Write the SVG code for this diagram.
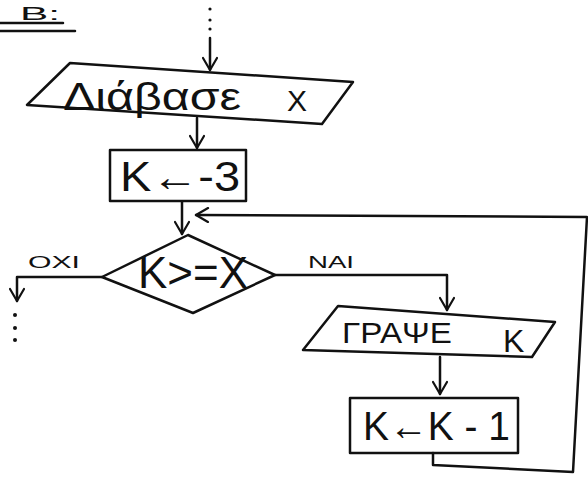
<svg xmlns="http://www.w3.org/2000/svg" width="588" height="477" viewBox="0 0 588 477">
<style>
.s{fill:none;stroke:#111;stroke-width:2.5;stroke-linecap:round;stroke-linejoin:round}
.t{font-family:"Liberation Sans","DejaVu Sans",Arial,sans-serif;fill:#111}
.dot{fill:#111}
</style>
<defs>
<marker id="a" viewBox="0 0 16 16" refX="14" refY="8" markerWidth="16" markerHeight="16" markerUnits="userSpaceOnUse" orient="auto">
<path d="M2,1 L14,8 L2,15" fill="none" stroke="#111" stroke-width="2.2" stroke-linecap="round" stroke-linejoin="round"/>
</marker>
</defs>
<g id="title">
<text class="t" x="20" y="20" font-size="19" textLength="40" lengthAdjust="spacingAndGlyphs">Β:</text>
<path class="s" d="M0,23 L63,23" stroke="#5a2020" stroke-width="1.8"/>
<path class="s" d="M0,31 L75,31"/>
</g>
<g id="connectors">
<circle class="dot" cx="210" cy="9" r="1.6"/>
<circle class="dot" cx="210" cy="20" r="1.6"/>
<circle class="dot" cx="210" cy="29" r="1.6"/>
<path class="s" d="M210,38 L210,70" marker-end="url(#a)"/>
<path class="s" d="M197,118 L197,148" marker-end="url(#a)"/>
<path class="s" d="M182,202 L182,234" marker-end="url(#a)"/>
<path class="s" d="M433,453 L433,465 L573,472 L587,217 L196,215" marker-end="url(#a)"/>
<path class="s" d="M102,277 L17,277 L17,301" marker-end="url(#a)"/>
<circle class="dot" cx="15" cy="315" r="2"/>
<circle class="dot" cx="15" cy="328" r="2"/>
<circle class="dot" cx="15" cy="340" r="2"/>
<path class="s" d="M275,275 L447,275 L447,310" marker-end="url(#a)"/>
<path class="s" d="M440,357 L440,394" marker-end="url(#a)"/>
<text class="t" x="28" y="268" font-size="17" textLength="52" lengthAdjust="spacingAndGlyphs">ΟΧΙ</text>
<text class="t" x="308" y="268" font-size="16" textLength="46" lengthAdjust="spacingAndGlyphs">ΝΑΙ</text>
</g>
<g id="read">
<path class="s" d="M70,63 L353,82 L322,124 L27,105 Z"/>
<text class="t" x="63" y="110" font-size="38" textLength="178" lengthAdjust="spacingAndGlyphs">Διάβασε</text>
<text class="t" x="287" y="111" font-size="30">X</text>
</g>
<g id="init">
<rect class="s" x="110" y="150" width="136" height="51"/>
<text class="t" x="120" y="191" font-size="42" textLength="120" lengthAdjust="spacingAndGlyphs">Κ←-3</text>
</g>
<g id="cond">
<path class="s" d="M102,277 L188,235 L275,275 L193,313 Z"/>
<text class="t" x="138" y="288" font-size="44" textLength="110" lengthAdjust="spacingAndGlyphs">Κ&gt;=X</text>
</g>
<g id="write">
<path class="s" d="M338,306 L555,322 L532,357 L303,350 Z"/>
<text class="t" x="342" y="343" font-size="29" textLength="110" lengthAdjust="spacingAndGlyphs">ΓΡΑΨΕ</text>
<text class="t" x="503" y="352" font-size="32">Κ</text>
</g>
<g id="dec">
<rect class="s" x="350" y="398" width="168" height="55"/>
<text class="t" x="363" y="440" font-size="40" textLength="147" lengthAdjust="spacingAndGlyphs">Κ←Κ - 1</text>
</g>
</svg>
